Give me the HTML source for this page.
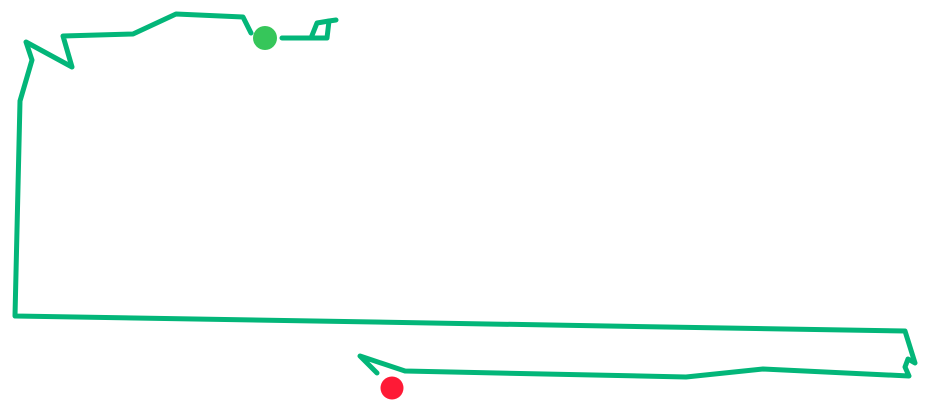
<!DOCTYPE html>
<html><head><meta charset="utf-8"><style>html,body{margin:0;padding:0;background:#fff;width:930px;height:404px;overflow:hidden}</style></head>
<body>
<svg width="930" height="404" viewBox="0 0 930 404" xmlns="http://www.w3.org/2000/svg">
<g fill="none" stroke="#03b679" stroke-width="5" stroke-linejoin="round" stroke-linecap="round">
<polyline points="251,33 243,17 176,14 133,34 63,36 72,67 26,42 32,60 20,101 15,316 905,331 915,363 908,359 905,367 909,376 763,369 686,377 405,371 360,356 377,373"/>
<polyline points="282,38 327,38 329,21 336,20"/>
<polyline points="311,38 317,23 329,21"/>
</g>
<circle cx="265" cy="38" r="12" fill="#36c65a"/>
<circle cx="392" cy="388" r="11.5" fill="#fe1a36"/>
</svg>
</body></html>
